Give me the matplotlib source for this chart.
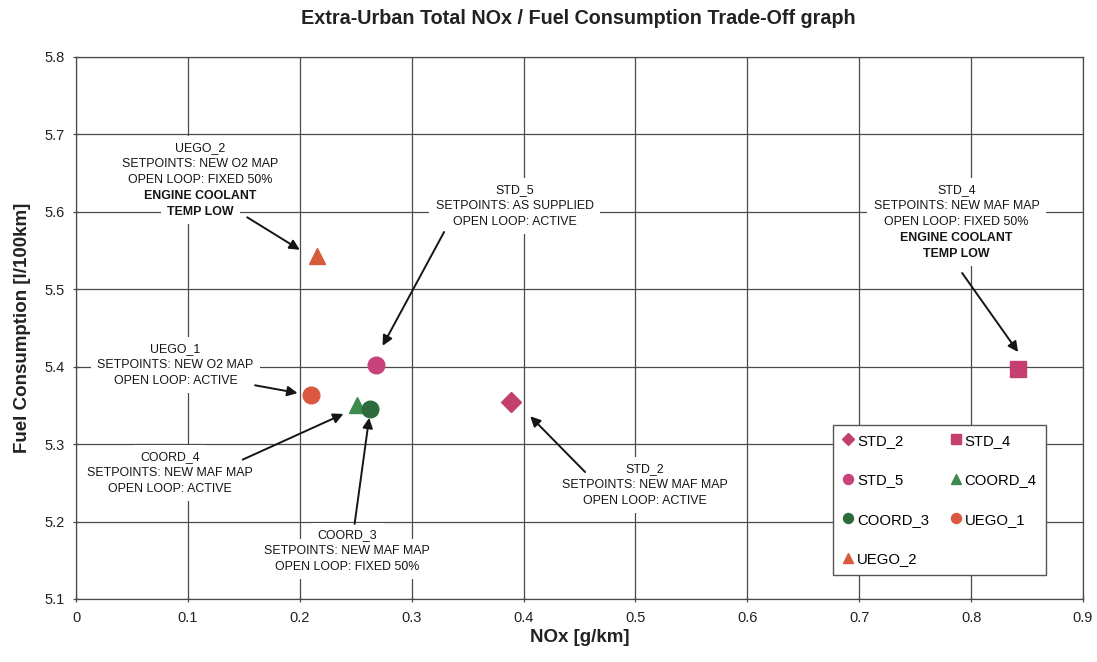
import matplotlib
matplotlib.use("Agg")
import matplotlib.pyplot as plt

plt.rcParams['font.family'] = ['Liberation Sans', 'DejaVu Sans']

# Test points: NOx [g/km] vs fuel consumption [l/100km]
names = ["STD_2", "STD_4", "STD_5", "COORD_4", "COORD_3", "UEGO_1", "UEGO_2"]
nox = [0.389, 0.842, 0.268, 0.251, 0.263, 0.210, 0.215]
fuel = [5.354, 5.397, 5.402, 5.351, 5.346, 5.364, 5.543]
markers = ["D", "s", "o", "^", "o", "o", "^"]
colors = ["#c2416b", "#c54070", "#c8437a", "#3c8a4e", "#2e6b3c", "#d9583f", "#d65a3c"]
sizes = [10, 12, 12, 11, 12, 12, 11]

x_ticks = [0, 0.1, 0.2, 0.3, 0.4, 0.5, 0.6, 0.7, 0.8, 0.9]
x_tick_labels = ["0", "0.1", "0.2", "0.3", "0.4", "0.5", "0.6", "0.7", "0.8", "0.9"]
y_ticks = [5.1, 5.2, 5.3, 5.4, 5.5, 5.6, 5.7, 5.8]
y_tick_labels = ["5.1", "5.2", "5.3", "5.4", "5.5", "5.6", "5.7", "5.8"]

# Callout text blocks: lines as (text, bold)
callouts = {
    "UEGO_2": [("UEGO_2", False), ("SETPOINTS: NEW O2 MAP", False),
               ("OPEN LOOP: FIXED 50%", False), ("ENGINE COOLANT", True),
               ("TEMP LOW", True)],
    "STD_5": [("STD_5", False), ("SETPOINTS: AS SUPPLIED", False),
              ("OPEN LOOP: ACTIVE", False)],
    "STD_4": [("STD_4", False), ("SETPOINTS: NEW MAF MAP", False),
              ("OPEN LOOP: FIXED 50%", False), ("ENGINE COOLANT", True),
              ("TEMP LOW", True)],
    "UEGO_1": [("UEGO_1", False), ("SETPOINTS: NEW O2 MAP", False),
               ("OPEN LOOP: ACTIVE", False)],
    "COORD_4": [("COORD_4", False), ("SETPOINTS: NEW MAF MAP", False),
                ("OPEN LOOP: ACTIVE", False)],
    "COORD_3": [("COORD_3", False), ("SETPOINTS: NEW MAF MAP", False),
                ("OPEN LOOP: FIXED 50%", False)],
    "STD_2": [("STD_2", False), ("SETPOINTS: NEW MAF MAP", False),
              ("OPEN LOOP: ACTIVE", False)],
}
# anchor of first text line (centre x, y), arrow tail and arrow tip
callout_text_pos = {
    "UEGO_2": (0.111, 5.6825), "STD_5": (0.392, 5.628), "STD_4": (0.787, 5.628),
    "UEGO_1": (0.089, 5.423), "COORD_4": (0.084, 5.283), "COORD_3": (0.242, 5.183),
    "STD_2": (0.508, 5.268),
}
arrow_tail = {
    "UEGO_2": (0.153, 5.593), "STD_5": (0.329, 5.574), "STD_4": (0.792, 5.521),
    "UEGO_1": (0.160, 5.376), "COORD_4": (0.149, 5.280), "COORD_3": (0.249, 5.197),
    "STD_2": (0.455, 5.264),
}
arrow_tip = {
    "UEGO_2": (0.200, 5.551), "STD_5": (0.274, 5.427), "STD_4": (0.842, 5.419),
    "UEGO_1": (0.198, 5.366), "COORD_4": (0.239, 5.339), "COORD_3": (0.262, 5.334),
    "STD_2": (0.406, 5.336),
}

fig = plt.figure(figsize=(10.97, 6.62), dpi=100)
ax = fig.add_axes([0.0693, 0.0952, 0.9179, 0.8187])

grid_color = "#4a4a4a"
ax.set_xlim(0, 0.9)
ax.set_ylim(5.1, 5.8)
ax.set_xticks(x_ticks)
ax.set_xticklabels(x_tick_labels)
ax.set_yticks(y_ticks)
ax.set_yticklabels(y_tick_labels)
ax.grid(True, color=grid_color, linewidth=0.9, zorder=0)
ax.set_axisbelow(True)
for sp in ax.spines.values():
    sp.set_color(grid_color)
    sp.set_linewidth(0.9)
ax.tick_params(direction="inout", length=5, width=0.9, color=grid_color,
               labelsize=10.5, labelcolor="#222222", pad=6)

handles = {}
for n, xv, yv, m, c, s in zip(names, nox, fuel, markers, colors, sizes):
    ln, = ax.plot([xv], [yv], linestyle="none", marker=m, markersize=s,
                  color=c, markeredgecolor=c, zorder=5, label=n)
    handles[n] = ln

line_step = 11.52  # points between callout lines
for key, lines in callouts.items():
    cx, cy = callout_text_pos[key]
    for i, (txt, bold) in enumerate(lines):
        common = dict(xy=(cx, cy), xycoords="data",
                      xytext=(0, -i * line_step), textcoords="offset points",
                      ha="center", va="center", fontsize=8.9,
                      fontweight="bold" if bold else "normal")
        # white backing behind the block, then the text itself on top
        ax.annotate(txt, color="none",
                    bbox=dict(boxstyle="square,pad=0.5", fc="white", ec="none"),
                    zorder=2, **common)
        ax.annotate(txt, color="#151515", zorder=3, **common)
    ax.annotate("", xy=arrow_tip[key], xytext=arrow_tail[key],
                arrowprops=dict(arrowstyle="-|>", color="#151515", lw=1.4,
                                mutation_scale=15, shrinkA=0, shrinkB=0),
                zorder=4)

order = ["STD_2", "STD_5", "COORD_3", "UEGO_2", "STD_4", "COORD_4", "UEGO_1"]
leg = ax.legend([handles[k] for k in order], order, ncol=2,
                loc="lower left", bbox_to_anchor=(0.752, 0.044),
                fontsize=10.7, markerscale=0.6, frameon=True, fancybox=False,
                edgecolor="#555555", framealpha=1, labelspacing=1.72,
                handlelength=0.8, handletextpad=0.2, columnspacing=1.4,
                borderpad=0.6, borderaxespad=0)
leg.get_frame().set_linewidth(1.0)
leg.set_zorder(6)

ax.set_xlabel("NOx [g/km]", fontsize=13.5, fontweight="bold", color="#222222", labelpad=3)
ax.set_ylabel("Fuel Consumption [l/100km]", fontsize=13.5, fontweight="bold",
              color="#222222", labelpad=9)
fig.text(0.527, 0.972, "Extra-Urban Total NOx / Fuel Consumption Trade-Off graph",
         ha="center", va="center", fontsize=14.2, fontweight="bold", color="#222222")

fig.savefig("out.png", dpi=100, facecolor="white")
